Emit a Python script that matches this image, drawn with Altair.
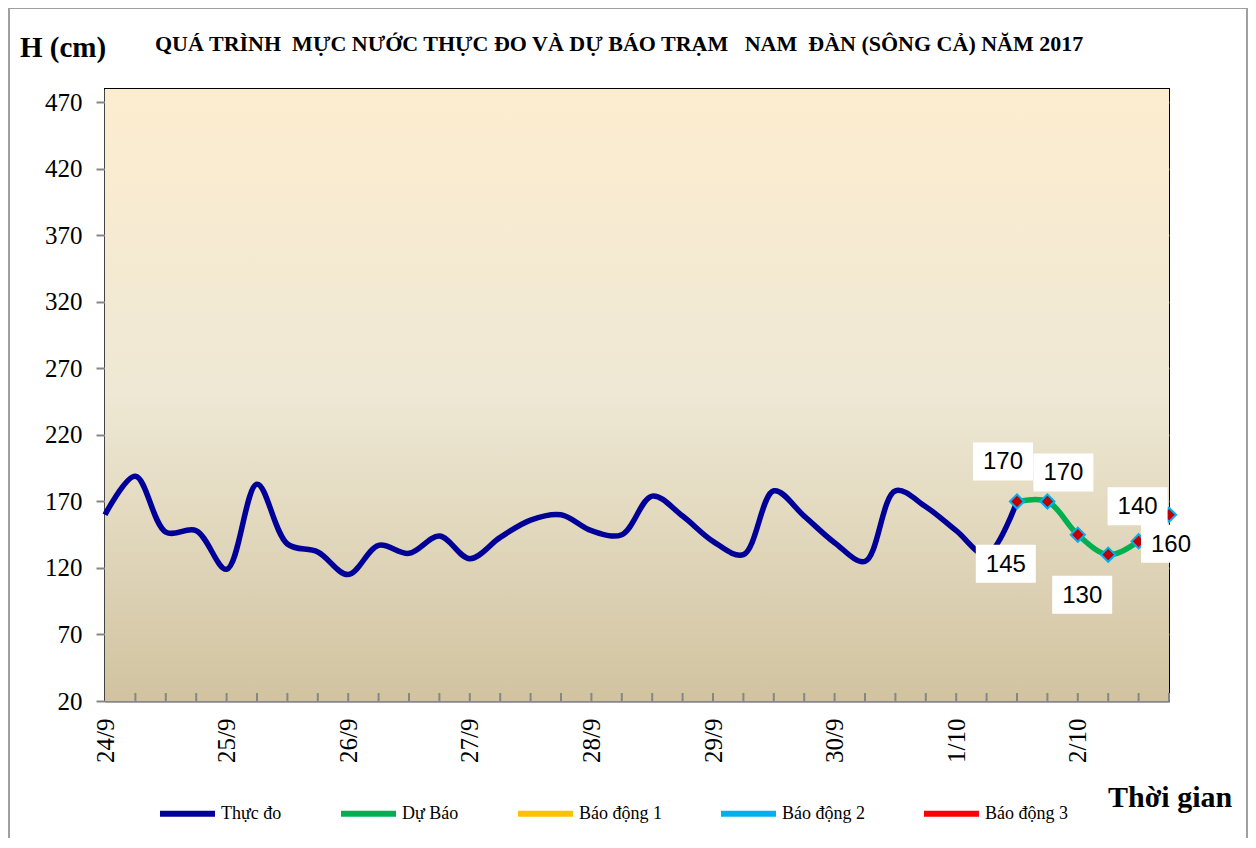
import altair as alt
import pandas as pd

# ---- data ----
obs_values = [160, 189, 147, 148, 119, 183, 138, 132, 115, 137, 131, 144, 127,
              143, 156, 160, 148, 145, 174, 159, 140, 130, 178, 159, 139, 125,
              178, 166, 148, 130, 170]
fc_start = 30
fc_values = [170, 170, 145, 130, 140, 160]
day_labels = ["24/9", "25/9", "26/9", "27/9", "28/9", "29/9", "30/9", "1/10", "2/10"]
n_steps = 36
y_ticks = [20, 70, 120, 170, 220, 270, 320, 370, 420, 470]
series_names = ["Thực đo", "Dự Báo", "Báo động 1", "Báo động 2", "Báo động 3"]
series_colors = ["#000099", "#00B050", "#FFC000", "#00B0F0", "#FF0000"]
title_text = "QUÁ TRÌNH  MỰC NƯỚC THỰC ĐO VÀ DỰ BÁO TRẠM   NAM  ĐÀN (SÔNG CẢ) NĂM 2017"
# keep the doubled spaces of the original title visible
title_text = title_text.replace("   ", "\u00a0\u00a0 ").replace("  ", "\u00a0 ")

# label box offsets (pixels) for forecast value labels
label_dx = [-14, 16, -72, -26, -1, 2]
label_dy = [-40, -29, 29, 40, -35, 29]

W, H = 1064, 612
SERIF = "Liberation Serif"
SANS = "Liberation Sans"

obs_df = pd.DataFrame({"idx": list(range(len(obs_values))), "h": obs_values,
                       "s": series_names[0]})
fc_df = pd.DataFrame({"idx": [fc_start + i for i in range(len(fc_values))],
                      "h": fc_values, "s": series_names[1]})
lines_df = pd.concat([obs_df, fc_df], ignore_index=True)

label_expr = "[" + ",".join("'%s'" % d for d in day_labels) + "][round(datum.value/4)]"

xscale = alt.Scale(domain=[0, n_steps - 1], nice=False, zero=False)
yscale = alt.Scale(domain=[20, 480], nice=False, zero=False)

x_enc = alt.X("idx:Q", scale=xscale,
              axis=alt.Axis(values=[4 * i for i in range(len(day_labels))],
                            labelExpr=label_expr, title=None, grid=False, ticks=False,
                            labelAngle=270, labelAlign="right", labelBaseline="middle",
                            labelPadding=17, labelFont=SERIF, labelFontSize=25,
                            labelColor="#000000", domainColor="#868686",
                            domainWidth=2))
y_enc = alt.Y("h:Q", scale=yscale,
              axis=alt.Axis(values=y_ticks, title=None, grid=True, gridColor="#868686",
                            gridWidth=2, tickSize=9, tickColor="#868686", tickWidth=2,
                            labelPadding=14, labelFont=SERIF, labelFontSize=25,
                            labelColor="#000000", domainColor="#868686", domainWidth=2))

color_enc = alt.Color("s:N", scale=alt.Scale(domain=series_names, range=series_colors),
                      legend=alt.Legend(title=None, orient="none", legendX=52, legendY=694,
                                        direction="horizontal", symbolType="stroke",
                                        symbolSize=3025, symbolStrokeWidth=6,
                                        labelFont=SERIF, labelFontSize=18,
                                        labelColor="#000000", labelOffset=3,
                                        columnPadding=47, padding=0))

bg = alt.Chart(pd.DataFrame({"a": [0]})).mark_rect(
    color=alt.LinearGradient(gradient="linear", x1=0, x2=0, y1=0, y2=1,
                             stops=[alt.GradientStop(offset=0, color="#FDEDD0"),
                                    alt.GradientStop(offset=0.5, color="#EEE8D4"),
                                    alt.GradientStop(offset=1, color="#D1C3A0")])).encode(
    x=alt.value(0), x2=alt.value(W), y=alt.value(0), y2=alt.value(H))

lines = alt.Chart(lines_df).mark_line(strokeWidth=5.5, interpolate="catmull-rom").encode(
    x=x_enc, y=y_enc, color=color_enc, detail="s:N")

diamonds = alt.Chart(fc_df).mark_point(shape="diamond", filled=True, fill="#C00000",
                                       stroke="#00B0F0", strokeWidth=2, size=200,
                                       opacity=1).encode(
    x=alt.X("idx:Q", scale=xscale), y=alt.Y("h:Q", scale=yscale))

tick_df = pd.DataFrame({"idx": list(range(1, n_steps))})
inner_ticks = alt.Chart(tick_df).mark_rule(color="#868686", strokeWidth=2).encode(
    x=alt.X("idx:Q", scale=xscale), y=alt.value(H), y2=alt.value(H - 8))

layers = [lines, diamonds, inner_ticks]

for i, v in enumerate(fc_values):
    one = fc_df.iloc[[i]]
    box = alt.Chart(one).mark_point(
        shape="M-1,-0.633L1,-0.633L1,0.633L-1,0.633Z", size=3600, filled=True,
        fill="#FFFFFF", strokeWidth=0, opacity=1,
        xOffset=label_dx[i], yOffset=label_dy[i]).encode(
        x=alt.X("idx:Q", scale=xscale), y=alt.Y("h:Q", scale=yscale))
    txt = alt.Chart(one).mark_text(font=SANS, fontSize=24, color="#000000",
                                   dx=label_dx[i], dy=label_dy[i] + 1,
                                   baseline="middle", align="center").encode(
        x=alt.X("idx:Q", scale=xscale), y=alt.Y("h:Q", scale=yscale), text="h:Q")
    layers += [box, txt]

frame = alt.Chart(pd.DataFrame({"a": [0]})).mark_rect(
    fill=None, stroke="#A0A0A0", strokeWidth=2).encode(
    x=alt.value(-96), x2=alt.value(1142), y=alt.value(-81), y2=alt.value(770))

ylab = alt.Chart(pd.DataFrame({"t": ["H (cm)"]})).mark_text(
    font=SERIF, fontSize=29, fontWeight="bold", align="left", baseline="alphabetic",
    color="#000000").encode(x=alt.value(-85), y=alt.value(-32), text="t:N")
main_title = alt.Chart(pd.DataFrame({"t": [title_text]})).mark_text(
    font=SERIF, fontSize=22, fontWeight="bold", align="left", baseline="alphabetic",
    color="#000000").encode(x=alt.value(50), y=alt.value(-38), text="t:N")
xlab = alt.Chart(pd.DataFrame({"t": ["Thời gian"]})).mark_text(
    font=SERIF, fontSize=30, fontWeight="bold", align="left", baseline="alphabetic",
    color="#000000").encode(x=alt.value(1003), y=alt.value(718), text="t:N")

chart = alt.layer(bg, frame, *layers, ylab, main_title, xlab).properties(
    width=W, height=H,
    autosize=alt.AutoSizeParams(type="none"),
    padding={"left": 97, "top": 81, "right": 79, "bottom": 137},
    background="#FFFFFF",
).configure_view(
    stroke="#000000", strokeWidth=2,
)

chart.save("out.html", embed_options={"renderer": "svg", "actions": False})
